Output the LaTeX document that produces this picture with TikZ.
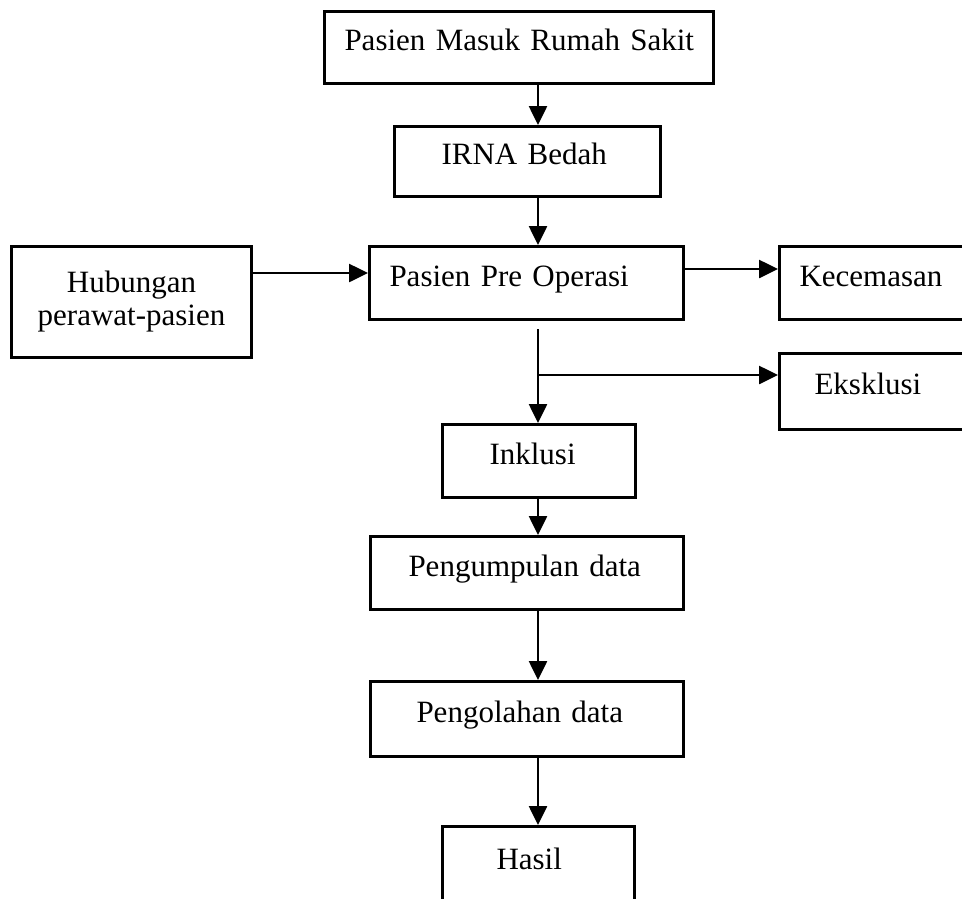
\documentclass[tikz,border=0pt]{standalone}
\usepackage{fontspec}
\setmainfont{Liberation Serif}
\usetikzlibrary{arrows.meta}
\begin{document}
\begin{tikzpicture}[x=1pt,y=-1pt,
  bx/.style={draw, line width=3pt, anchor=north west, font=\fontsize{31}{33}\selectfont, align=left, inner ysep=0pt},
  one/.style={text height=22pt, text depth=16pt},
  ar/.style={line width=2.6pt, -{Triangle[length=19pt,width=18pt]}}]
\useasboundingbox (0,0) rectangle (962,898);
\clip (0,0) rectangle (962,898);
\fill[white] (0,0) rectangle (962,898);
\node[bx, one, minimum height=72pt, text width=349pt, inner xsep=20pt] (top) at (323,10) {\mbox{Pasien Masuk Rumah Sakit}};
\node[bx, one, minimum height=70pt, text width=172pt, inner xsep=47pt] (irna) at (393,125) {\mbox{IRNA Bedah}};
\node[bx, one, minimum height=73pt, text width=274pt, inner xsep=20pt] (pre) at (368,245) {\mbox{Pasien Pre Operasi}};
\node[bx, minimum height=111pt, text width=220pt, inner xsep=10pt, align=center] (hub) at (10,245) {Hubungan\\perawat-pasien};
\node[bx, one, minimum height=73pt, text width=200pt, inner xsep=20pt] (kec) at (778,245) {\mbox{Kecemasan}};
\node[bx, one, minimum height=76pt, text width=170pt, inner xsep=35pt] (eks) at (778,352) {\mbox{Eksklusi}};
\node[bx, one, minimum height=73pt, text width=99pt, inner xsep=47pt] (ink) at (441,423) {\mbox{Inklusi}};
\node[bx, one, minimum height=73pt, text width=237pt, inner xsep=38pt] (pgp) at (369,535) {\mbox{Pengumpulan data}};
\node[bx, one, minimum height=75pt, text width=221pt, inner xsep=46pt] (pgl) at (369,680) {\mbox{Pengolahan data}};
\node[bx, one, minimum height=80pt, text width=84pt, inner xsep=54pt] (has) at (441,825) {\mbox{Hasil}};
\coordinate (ax) at (538,0);
\coordinate (hy) at (0,273);
\coordinate (ky) at (0,269);
\coordinate (br) at (538,375);
\draw[ar] (top.south -| ax) -- (irna.north -| ax);
\draw[ar] (irna.south -| ax) -- (pre.north -| ax);
\draw[ar] (hub.east |- hy) -- (pre.west |- hy);
\draw[ar] (pre.east |- ky) -- (kec.west |- ky);
\draw[ar, shorten <=8pt] (pre.south -| ax) -- (ink.north -| ax);
\draw[ar] (br) -- (eks.west |- br);
\draw[ar] (ink.south -| ax) -- (pgp.north -| ax);
\draw[ar] (pgp.south -| ax) -- (pgl.north -| ax);
\draw[ar] (pgl.south -| ax) -- (has.north -| ax);
\end{tikzpicture}
\end{document}
